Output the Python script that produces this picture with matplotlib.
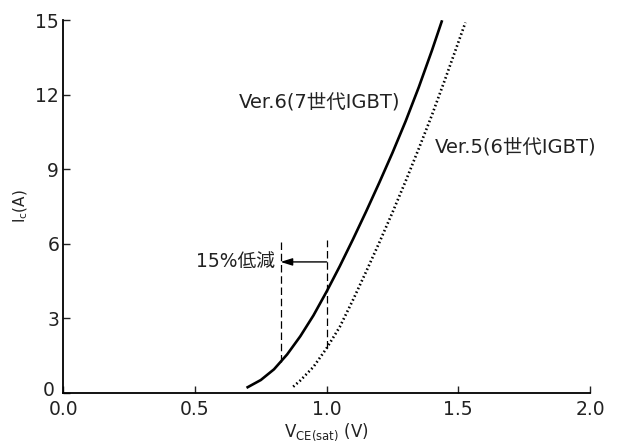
import matplotlib
matplotlib.use("Agg")
import matplotlib.pyplot as plt
import matplotlib.transforms as mtransforms

plt.rcParams['font.family'] = ['DejaVu Sans', 'Noto Sans CJK JP']
plt.rcParams['mathtext.fontset'] = 'dejavusans'

# Data
ver6_v = [0.700, 0.750, 0.800, 0.850, 0.900, 0.950, 1.000, 1.050, 1.100, 1.150,
          1.200, 1.250, 1.300, 1.350, 1.400, 1.437]
ver6_i = [0.23, 0.52, 0.95, 1.55, 2.28, 3.12, 4.08, 5.10, 6.18, 7.30,
          8.46, 9.66, 10.93, 12.30, 13.78, 14.94]
ver5_v = [0.873, 0.900, 0.950, 1.000, 1.050, 1.100, 1.150, 1.200, 1.250, 1.300,
          1.350, 1.400, 1.450, 1.500, 1.527]
ver5_i = [0.25, 0.50, 1.05, 1.80, 2.66, 3.74, 4.88, 6.05, 7.26, 8.52,
          9.83, 11.18, 12.62, 14.10, 14.90]

ver6_label = 'Ver.6(7世代IGBT)'
ver5_label = 'Ver.5(6世代IGBT)'
reduction_label = '15%低減'
ref_v_new = 0.825
ref_v_old = 1.0
ref_i_new = 1.24
ref_i_old = 1.80
arrow_i = 5.27
dash_top = 6.15

xticks = [0.0, 0.5, 1.0, 1.5, 2.0]
yticks = [0, 3, 6, 9, 12, 15]

TXT = '#222222'
fig = plt.figure(figsize=(6.21, 4.45), dpi=100)
ax = fig.add_axes([0.102, 0.117, 0.848, 0.838])

ax.plot(ver6_v, ver6_i, color='black', lw=1.9, solid_joinstyle='round')
ax.plot(ver5_v, ver5_i, color='black', lw=1.9, linestyle=(0, (0.6, 1.0)))

ax.plot([ref_v_new, ref_v_new], [ref_i_new, dash_top], color='black', lw=0.9, linestyle=(0, (6, 3)))
ax.plot([ref_v_old, ref_v_old], [ref_i_old, dash_top], color='black', lw=0.9, linestyle=(0, (6, 3)))
ax.annotate('', xy=(ref_v_new, arrow_i), xytext=(ref_v_old, arrow_i),
            arrowprops=dict(arrowstyle='-|>,head_length=0.7,head_width=0.22',
                            color='black', lw=1.0, shrinkA=0, shrinkB=0))

ax.text(0.805, arrow_i, reduction_label, ha='right', va='center', fontsize=13.5, color=TXT)
ax.text(0.667, 11.72, ver6_label, ha='left', va='center', fontsize=14, color=TXT)
ax.text(1.41, 9.9, ver5_label, ha='left', va='center', fontsize=14, color=TXT)

ax.set_xlim(0, 2.0)
ax.set_ylim(0, 15)
ax.set_xticks(xticks)
ax.set_xticklabels([f'{t:.1f}' for t in xticks])
ax.set_yticks(yticks)
ax.tick_params(direction='in', length=5, width=1.0, labelsize=13.5, colors=TXT)
ax.tick_params(axis='x', pad=5)
ax.tick_params(axis='y', pad=3)
for s in ['top', 'right']:
    ax.spines[s].set_visible(False)
for s in ['left', 'bottom']:
    ax.spines[s].set_linewidth(1.3)

# origin label "0" sits a little up and left in the reference
fig.canvas.draw()
lbl0 = ax.get_yticklabels()[0]
lbl0.set_transform(lbl0.get_transform() + mtransforms.ScaledTranslation(-5/100, 4/100, fig.dpi_scale_trans))

ax.set_xlabel(r'$\mathregular{V_{CE(sat)}}$ (V)', fontsize=12, color=TXT, labelpad=2)
ax.set_ylabel(r'$\mathregular{I_{c}}$(A)', fontsize=11, color=TXT, labelpad=4)

fig.savefig('out.png', dpi=100)
